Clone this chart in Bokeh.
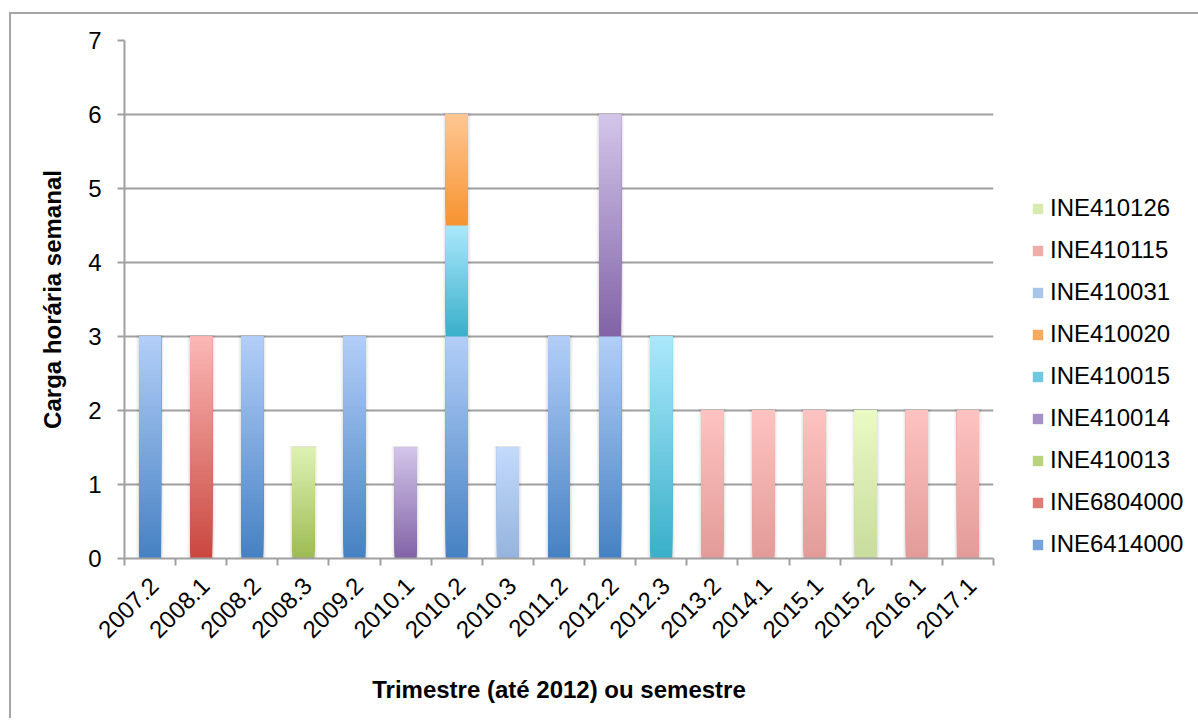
from math import pi

from bokeh.plotting import figure
from bokeh.models import (Range1d, LinearAxis, FixedTicker, Grid, Legend, LegendItem)
from bokeh.embed import file_html
from bokeh.resources import INLINE

# Periods (trimester up to 2012, semester afterwards)
periods = ["2007.2", "2008.1", "2008.2", "2008.3", "2009.2", "2010.1", "2010.2",
           "2010.3", "2011.2", "2012.2", "2012.3", "2013.2", "2014.1", "2015.1",
           "2015.2", "2016.1", "2017.1"]

# Weekly hours per course and period (stacked bottom -> top in this order)
INE6414000 = [3, 0, 3, 0, 3, 0, 3, 0, 3, 3, 0, 0, 0, 0, 0, 0, 0]
INE6804000 = [0, 3, 0, 0, 0, 0, 0, 0, 0, 0, 0, 0, 0, 0, 0, 0, 0]
INE410013 = [0, 0, 0, 1.5, 0, 0, 0, 0, 0, 0, 0, 0, 0, 0, 0, 0, 0]
INE410014 = [0, 0, 0, 0, 0, 1.5, 0, 0, 0, 3, 0, 0, 0, 0, 0, 0, 0]
INE410015 = [0, 0, 0, 0, 0, 0, 1.5, 0, 0, 0, 3, 0, 0, 0, 0, 0, 0]
INE410020 = [0, 0, 0, 0, 0, 0, 1.5, 0, 0, 0, 0, 0, 0, 0, 0, 0, 0]
INE410031 = [0, 0, 0, 0, 0, 0, 0, 1.5, 0, 0, 0, 0, 0, 0, 0, 0, 0]
INE410115 = [0, 0, 0, 0, 0, 0, 0, 0, 0, 0, 0, 2, 2, 2, 0, 2, 2]
INE410126 = [0, 0, 0, 0, 0, 0, 0, 0, 0, 0, 0, 0, 0, 0, 2, 0, 0]

y_ticks = [0, 1, 2, 3, 4, 5, 6, 7]

course_names = ["INE6414000", "INE6804000", "INE410013", "INE410014", "INE410015",
                "INE410020", "INE410031", "INE410115", "INE410126"]
course_hours = [INE6414000, INE6804000, INE410013, INE410014, INE410015,
                INE410020, INE410031, INE410115, INE410126]

# (bottom colour, top colour) of each course's vertical gradient
course_shades = [
    ("#4581C2", "#B3CEF8"),
    ("#C9473F", "#FBB8B6"),
    ("#9DBB52", "#DDF2B4"),
    ("#8163A6", "#D3C5EA"),
    ("#39AFC9", "#ABE8FC"),
    ("#F7932F", "#FEC794"),
    ("#95B3DC", "#C3DAFC"),
    ("#E29B98", "#FEC3C1"),
    ("#C8DC9D", "#EAFAC4"),
]

FONT = "Liberation Sans"
GREY = "#A0A0A0"
BAR_W = 0.43
STEPS = 48
LABEL_SHIFT = 0.08   # rotated period labels end slightly right of the slot centre

n = len(periods)
centers = [i + 0.5 for i in range(n)]   # slot centre of each period on the x scale


def mix(c0, c1, t):
    a = [int(c0[i:i + 2], 16) for i in (1, 3, 5)]
    b = [int(c1[i:i + 2], 16) for i in (1, 3, 5)]
    return "#%02x%02x%02x" % tuple(round(a[j] + (b[j] - a[j]) * t) for j in range(3))


p = figure(x_range=Range1d(0, n), y_range=Range1d(0, 7),
           x_axis_type=None, y_axis_type=None,
           frame_width=869, frame_height=518,
           min_border_left=113, min_border_right=200, min_border_top=26, min_border_bottom=160,
           output_backend="svg", toolbar_location=None, tools="")
p.outline_line_color = None
p.background_fill_color = "white"
p.border_fill_color = "white"
p.styles = {"margin-left": "9px", "margin-top": "12px",
            "border-left": "2px solid #A6A6A6", "border-top": "2px solid #A6A6A6"}

p.add_layout(Grid(dimension=1, ticker=FixedTicker(ticks=y_ticks[1:]),
                  grid_line_color=GREY, grid_line_width=2))

# soft drop shadow behind each stacked column
totals = [sum(h[i] for h in course_hours) for i in range(n)]
sx = [centers[i] for i in range(n) if totals[i] > 0]
stop = [totals[i] + 0.02 for i in range(n) if totals[i] > 0]
for extra, alpha in [(0.12, 0.03), (0.08, 0.035), (0.04, 0.045)]:
    p.vbar(x=sx, bottom=0, top=stop, width=BAR_W + extra,
           fill_color="black", fill_alpha=alpha, line_color=None)

# stacked columns, each segment shaded from dark (bottom) to light (top)
base = [0.0] * n
legend_items = []
for name, hours, (dark, light) in zip(course_names, course_hours, course_shades):
    xs, bots, tops, cols = [], [], [], []
    for i, h in enumerate(hours):
        if h <= 0:
            continue
        b0, b1 = base[i], base[i] + h
        for k in range(STEPS):
            xs.append(centers[i])
            bots.append(b0 + h * k / STEPS)
            tops.append(b1)
            cols.append(mix(dark, light, (k + 0.5) / STEPS))
        base[i] = b1
    p.vbar(x=xs, bottom=bots, top=tops, width=BAR_W, fill_color=cols, line_color=None)
    # legend swatch: one flat-coloured bar placed off the visible range
    swatch = p.vbar(x=[-5], bottom=[0], top=[1], width=BAR_W,
                    fill_color=mix(dark, light, 0.45), line_color=None)
    legend_items.append(LegendItem(label=name, renderers=[swatch]))

# y axis
yaxis = LinearAxis(ticker=FixedTicker(ticks=y_ticks), axis_label="Carga horária semanal")
yaxis.axis_line_color = GREY
yaxis.axis_line_width = 2
yaxis.major_tick_line_color = GREY
yaxis.major_tick_line_width = 2
yaxis.major_tick_in = 0
yaxis.major_tick_out = 7
yaxis.minor_tick_line_color = None
yaxis.major_label_text_font = FONT
yaxis.major_label_text_font_size = "24px"
yaxis.major_label_text_color = "black"
yaxis.major_label_standoff = 16
yaxis.axis_label_text_font = FONT
yaxis.axis_label_text_font_size = "24px"
yaxis.axis_label_text_font_style = "bold"
yaxis.axis_label_text_color = "black"
yaxis.axis_label_standoff = 19
p.add_layout(yaxis, "left")

# x axis line with tick marks between periods
edge_axis = LinearAxis(ticker=FixedTicker(ticks=list(range(n + 1))))
edge_axis.axis_line_color = GREY
edge_axis.axis_line_width = 2
edge_axis.major_tick_line_color = GREY
edge_axis.major_tick_line_width = 2
edge_axis.major_tick_in = 0
edge_axis.major_tick_out = 7
edge_axis.minor_tick_line_color = None
edge_axis.major_label_text_alpha = 0
edge_axis.major_label_text_font_size = "1px"
edge_axis.major_label_standoff = 0
p.add_layout(edge_axis, "below")

# period labels under the slot centres
label_pos = [c + LABEL_SHIFT for c in centers]
label_axis = LinearAxis(ticker=FixedTicker(ticks=label_pos),
                        major_label_overrides={c: lab for c, lab in zip(label_pos, periods)},
                        axis_label="Trimestre (até 2012) ou semestre")
label_axis.axis_line_color = None
label_axis.major_tick_line_color = None
label_axis.major_tick_in = 0
label_axis.major_tick_out = 0
label_axis.minor_tick_line_color = None
label_axis.major_label_orientation = pi / 4
label_axis.major_label_text_font = FONT
label_axis.major_label_text_font_size = "24px"
label_axis.major_label_text_color = "black"
label_axis.major_label_standoff = 16
label_axis.axis_label_text_font = FONT
label_axis.axis_label_text_font_size = "24px"
label_axis.axis_label_text_font_style = "bold"
label_axis.axis_label_text_color = "black"
label_axis.axis_label_standoff = 28
p.add_layout(label_axis, "below")

legend = Legend(items=legend_items[::-1], location=(38, 0), margin=0, padding=0,
                spacing=14, glyph_width=13, glyph_height=13, label_height=28,
                label_standoff=6, label_text_font=FONT, label_text_font_size="24px",
                label_text_color="black", border_line_color=None,
                background_fill_alpha=0)
p.add_layout(legend, "right")

open("out.html", "w").write(file_html(p, INLINE))
